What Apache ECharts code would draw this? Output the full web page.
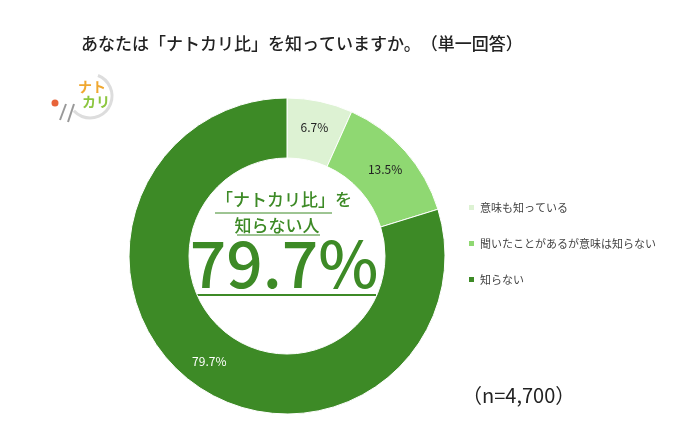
<!DOCTYPE html>
<html><head><meta charset="utf-8">
<script src="https://cdn.jsdelivr.net/npm/echarts@6/dist/echarts.min.js"></script>
<style>html,body{margin:0;background:#fff}#c{width:700px;height:446px}</style>
</head><body><div id="c"></div>
<script>
var categories = ['意味も知っている', '聞いたことがあるが意味は知らない', '知らない'];
var values = [6.7, 13.5, 79.7];
var colors = ['#ddf2d3', '#8fd872', '#3d8a26'];
var font = '"Noto Sans CJK JP", sans-serif';

var chart = echarts.init(document.getElementById('c'));
chart.setOption({
    backgroundColor: '#fff',
    animation: false,
    title: {
        text: 'あなたは「ナトカリ比」を知っていますか。　（単一回答）',
        left: 76, top: 30,
        textStyle: {fontFamily: font, fontSize: 17, fontWeight: 500, color: '#222'}
    },
    legend: {
        orient: 'vertical',
        left: 462, top: 197,
        itemGap: 25,
        itemWidth: 7, itemHeight: 7,
        icon: 'rect',
        textStyle: {fontFamily: font, fontSize: 11, color: '#444'},
        data: categories
    },
    series: [{
        type: 'pie',
        center: [287, 256],
        radius: [98, 158],
        startAngle: 90,
        clockwise: true,
        label: {
            position: 'inside',
            formatter: '{c}%',
            fontFamily: font, fontSize: 12, color: '#222'
        },
        labelLine: {show: false},
        itemStyle: {borderColor: '#fff', borderWidth: 1},
        data: categories.map(function (n, i) {
            var d = {name: n, value: values[i], itemStyle: {color: colors[i]}};
            if (i === 2) d.label = {color: '#fff', position: 'inside'};
            return d;
        })
    }],
    graphic: [
        {type: 'text', style: {x: 284, y: 200, text: '「ナトカリ比」を', align: 'center', verticalAlign: 'middle', font: '500 17px ' + font, fill: '#3d8a26'}},
        {type: 'line', shape: {x1: 215, y1: 213, x2: 332, y2: 213}, style: {stroke: '#3d8a26', lineWidth: 1}},
        {type: 'text', style: {x: 277, y: 226, text: '知らない人', align: 'center', verticalAlign: 'middle', font: '500 17px ' + font, fill: '#3d8a26'}},
        {type: 'line', shape: {x1: 237, y1: 235, x2: 320, y2: 235}, style: {stroke: '#3d8a26', lineWidth: 1}},
        {type: 'text', style: {x: 284, y: 264, text: '79.7%', align: 'center', verticalAlign: 'middle', font: '500 64px ' + font, fill: '#3d8a26'}},
        {type: 'line', shape: {x1: 193, y1: 295, x2: 376, y2: 295}, style: {stroke: '#3d8a26', lineWidth: 2}},
        {type: 'text', style: {x: 462, y: 395, text: '（n=4,700）', verticalAlign: 'middle', font: '20px ' + font, fill: '#222'}},
        {type: 'arc', shape: {cx: 90, cy: 96, r: 22, startAngle: -1.2, endAngle: 2.4}, style: {fill: 'none', stroke: '#ddd', lineWidth: 3}},
        {type: 'text', style: {x: 78, y: 80, text: 'ナト', font: 'bold 14px ' + font, fill: '#f0a830'}},
        {type: 'text', style: {x: 82, y: 95, text: 'カリ', font: 'bold 14px ' + font, fill: '#8cc63f'}},
        {type: 'circle', shape: {cx: 55, cy: 103, r: 3.5}, style: {fill: '#e8643a'}},
        {type: 'line', shape: {x1: 66, y1: 104, x2: 60, y2: 120}, style: {stroke: '#999', lineWidth: 2}},
        {type: 'line', shape: {x1: 74, y1: 104, x2: 68, y2: 122}, style: {stroke: '#999', lineWidth: 2}}
    ]
});
</script></body></html>
